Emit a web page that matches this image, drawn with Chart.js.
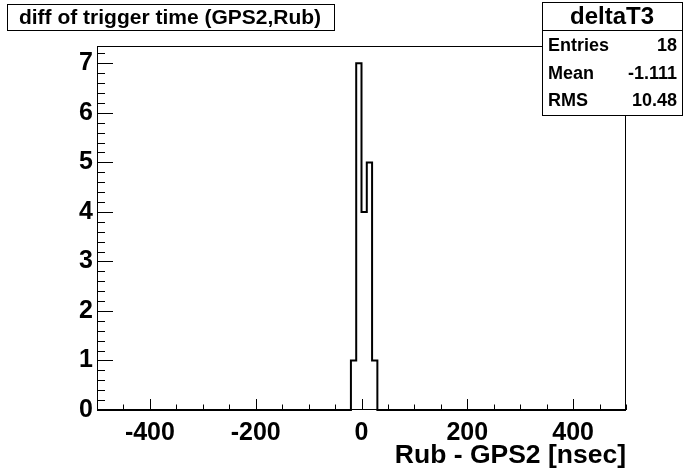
<!DOCTYPE html>
<html>
<head>
<meta charset="utf-8">
<script src="https://cdn.jsdelivr.net/npm/chart.js@4/dist/chart.umd.min.js"></script>
<style>
html,body{margin:0;padding:0;background:#fff;}
#wrap{width:696px;height:472px;position:relative;}
</style>
</head>
<body>
<div id="wrap"><canvas id="c" width="696" height="472"></canvas></div>
<script>
// ---- data ----
const histTitle = "diff of trigger time (GPS2,Rub)";
const histName = "deltaT3";
const xAxisTitle = "Rub - GPS2 [nsec]";
const xRange = [-500, 500];
const binWidth = 10;
const binLowEdges = [-20, -10, 0, 10, 20];
const binCounts = [1, 7, 4, 5, 1];
const xTickValues = [-400, -200, 0, 200, 400];
const yTickValues = [0, 1, 2, 3, 4, 5, 6, 7];
const yMax = 7.35;
const statLabels = ["Entries", "Mean", "RMS"];
const statValues = ["18", "-1.111", "10.48"];

// step outline points (left edge of each bin carries its count)
const pts = [{x: xRange[0], y: 0}];
binLowEdges.forEach((e, i) => pts.push({x: e, y: binCounts[i]}));
pts.push({x: binLowEdges[binLowEdges.length - 1] + binWidth, y: 0});
pts.push({x: xRange[1], y: 0});

const FONT = "'Liberation Sans', Arial, Helvetica, sans-serif";

const framePlugin = {
  id: 'frame',
  afterDatasetsDraw(chart) {
    const ctx = chart.ctx;
    const a = chart.chartArea;
    const xs = chart.scales.x, ys = chart.scales.y;
    ctx.save();
    ctx.strokeStyle = '#000';
    ctx.lineWidth = 1;
    ctx.strokeRect(Math.round(a.left) + 0.5, Math.round(a.top) + 0.5,
                   Math.round(a.right - a.left) - 1, Math.round(a.bottom - a.top) - 1);
    ctx.beginPath();
    // x ticks
    for (let v = xRange[0]; v <= xRange[1]; v += 50) {
      const px = Math.round(xs.getPixelForValue(v)) + 0.5;
      const len = xTickValues.includes(v) ? 11 : 5.5;
      ctx.moveTo(px, a.bottom);
      ctx.lineTo(px, a.bottom - len);
    }
    // y ticks
    for (let k = 0; k <= 36; k++) {
      const v = k * 0.2;
      if (v > yMax) break;
      const py = Math.round(ys.getPixelForValue(v)) + 0.5;
      const len = (k % 5 === 0) ? 16 : 8;
      ctx.moveTo(a.left, py);
      ctx.lineTo(a.left + len, py);
    }
    ctx.stroke();
    ctx.restore();
  },
  afterDraw(chart) {
    const ctx = chart.ctx;
    ctx.save();
    ctx.fillStyle = '#fff';
    ctx.strokeStyle = '#000';
    ctx.lineWidth = 1;
    // title box
    ctx.fillRect(7.5, 4.5, 327, 26);
    ctx.strokeRect(7.5, 4.5, 327, 26);
    ctx.fillStyle = '#000';
    ctx.font = "bold 21px " + FONT;
    ctx.textAlign = 'center';
    ctx.textBaseline = 'middle';
    ctx.fillText(histTitle, 170, 18);
    // stats box
    ctx.fillStyle = '#fff';
    ctx.fillRect(542.5, 2.5, 140, 113);
    ctx.strokeRect(542.5, 2.5, 140, 113);
    ctx.beginPath();
    ctx.moveTo(542.5, 30.5); ctx.lineTo(682.5, 30.5);
    ctx.stroke();
    ctx.fillStyle = '#000';
    ctx.font = "bold 24px " + FONT;
    ctx.textAlign = 'center';
    ctx.fillText(histName, 612, 17);
    ctx.font = "bold 18px " + FONT;
    const rowY = [46, 74, 101];
    statLabels.forEach((l, i) => {
      ctx.textAlign = 'left';
      ctx.fillText(l, 548, rowY[i]);
      ctx.textAlign = 'right';
      ctx.fillText(statValues[i], 677, rowY[i]);
    });
    ctx.restore();
  }
};

new Chart(document.getElementById('c'), {
  type: 'line',
  data: {
    datasets: [{
      data: pts,
      stepped: 'before',
      borderColor: '#000',
      borderWidth: 2,
      pointRadius: 0,
      fill: false,
      tension: 0,
      clip: false
    }]
  },
  options: {
    responsive: false,
    animation: false,
    events: [],
    layout: {padding: {top: 46, right: 70, left: 0, bottom: 0}},
    plugins: {legend: {display: false}, title: {display: false}, tooltip: {enabled: false}},
    scales: {
      x: {
        type: 'linear',
        min: xRange[0], max: xRange[1],
        afterBuildTicks: s => { s.ticks = xTickValues.map(v => ({value: v})); },
        afterFit: s => { s.height = 62; },
        grid: {display: false, drawTicks: false},
        border: {display: false},
        ticks: {color: '#000', font: {family: FONT, size: 25, weight: 'bold'}, padding: 8, maxRotation: 0, autoSkip: false},
        title: {display: true, text: xAxisTitle, align: 'end', color: '#000',
                font: {family: FONT, size: 26.5, weight: 'bold'}, padding: {top: 0, bottom: 0}}
      },
      y: {
        type: 'linear',
        min: 0, max: yMax,
        afterBuildTicks: s => { s.ticks = yTickValues.map(v => ({value: v})); },
        afterFit: s => { s.width = 97; },
        grid: {display: false, drawTicks: false},
        border: {display: false},
        ticks: {color: '#000', font: {family: FONT, size: 25, weight: 'bold'}, padding: 4, autoSkip: false}
      }
    }
  },
  plugins: [framePlugin]
});
</script>
</body>
</html>
